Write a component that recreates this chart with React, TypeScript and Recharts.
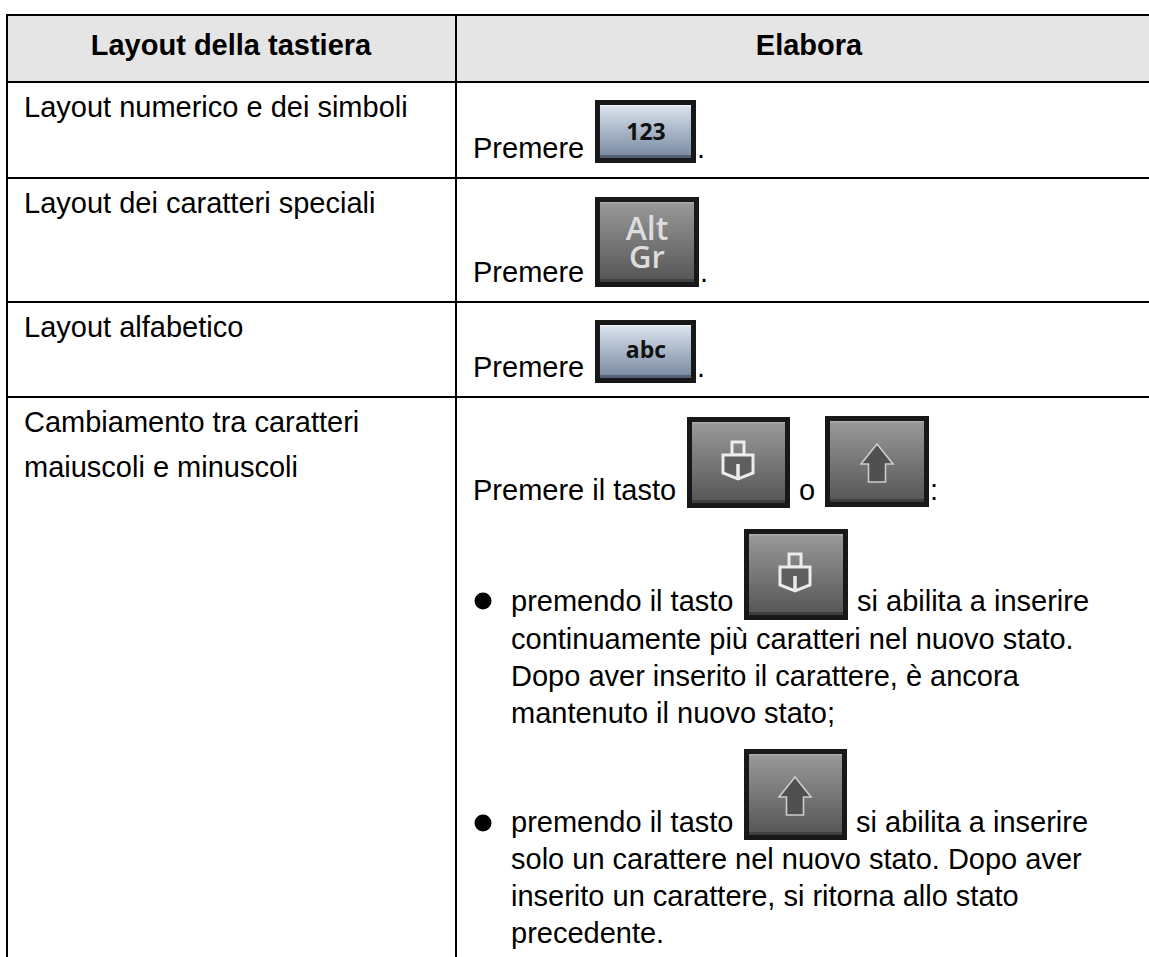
import React from "react";
import { ComposedChart, XAxis, YAxis, ReferenceArea, ReferenceLine, Label } from "recharts";

const headers = ["Layout della tastiera", "Elabora"];
const rowLabels = [
  ["Layout numerico e dei simboli"],
  ["Layout dei caratteri speciali"],
  ["Layout alfabetico"],
  ["Cambiamento tra caratteri", "maiuscoli e minuscoli"],
];
const press = "Premere";
const pressKey = "Premere il tasto";
const pressing = "premendo il tasto";
const enable = "si abilita a inserire";
const bulletOne = [
  "continuamente più caratteri nel nuovo stato.",
  "Dopo aver inserito il carattere, è ancora",
  "mantenuto il nuovo stato;",
];
const bulletTwo = [
  "solo un carattere nel nuovo stato. Dopo aver",
  "inserito un carattere, si ritorna allo stato",
  "precedente.",
];
const keyNumbers = "123";
const keyAlt = ["Alt", "Gr"];
const keyAlpha = "abc";

const W = 1149;
const H = 957;
const FONT = "'Liberation Sans', Arial, sans-serif";
const KEY_FONT = "'Open Sans', 'Noto Sans', sans-serif";

const T = ({ x, y, children, bold, anchor }: any) => (
  <text x={x} y={y} fontFamily={FONT} fontSize={29} fontWeight={bold ? 700 : 400} fill="#000" textAnchor={anchor || "start"}>
    {children}
  </text>
);

const Key = ({ x, y, w, h, blue, children }: any) => (
  <g>
    <rect x={x} y={y} width={w} height={h} fill="#181818" />
    <rect x={x + 5} y={y + 5} width={w - 10} height={h - 10} fill={blue ? "url(#keyBlue)" : "url(#keyGray)"} />
    <rect x={x + 5} y={y + 5} width={w - 10} height={1.5} fill={blue ? "#eef2f7" : "#aaaaaa"} />
    <rect x={x + 5} y={y + h - 8} width={w - 10} height={3} fill={blue ? "#3c4658" : "#303030"} opacity={0.6} />
    {children}
  </g>
);

const Lock = ({ cx, cy }: any) => (
  <g fill="none" stroke="#ececec" strokeWidth={3}>
    <rect x={cx - 6} y={cy - 20} width={12} height={13} />
    <path d={`M${cx - 15} ${cy - 7}H${cx + 15}V${cy + 11}L${cx} ${cy + 17}L${cx - 15} ${cy + 11}Z`} fill="#5f5f5f" />
    <path d={`M${cx} ${cy + 2}V${cy + 15}`} strokeWidth={3.5} />
  </g>
);

const Arrow = ({ cx, cy }: any) => (
  <path
    d={`M${cx} ${cy - 18}L${cx + 16} ${cy + 2}H${cx + 8.5}V${cy + 20}H${cx - 8.5}V${cy + 2}H${cx - 16}Z`}
    fill="#505050"
    stroke="#cccccc"
    strokeWidth={1.6}
  />
);

const KeyLabel = ({ x, y, size, fill, children, weight }: any) => (
  <text x={x} y={y} fontFamily={KEY_FONT} fontSize={size} fontWeight={weight} fill={fill} textAnchor="middle">
    {children}
  </text>
);

const Defs = () => (
  <defs>
    <linearGradient id="keyBlue" x1="0" y1="0" x2="0" y2="1">
      <stop offset="0" stopColor="#dbe4ef" />
      <stop offset="1" stopColor="#77879f" />
    </linearGradient>
    <linearGradient id="keyGray" x1="0" y1="0" x2="0" y2="1">
      <stop offset="0" stopColor="#999999" />
      <stop offset="1" stopColor="#555555" />
    </linearGradient>
  </defs>
);

const Content = () => (
  <g>
    <T x={24} y={117}>{rowLabels[0][0]}</T>
    <T x={24} y={213}>{rowLabels[1][0]}</T>
    <T x={24} y={337}>{rowLabels[2][0]}</T>
    <T x={24} y={432}>{rowLabels[3][0]}</T>
    <T x={24} y={477}>{rowLabels[3][1]}</T>

    <T x={473} y={158}>{press}</T>
    <Key x={595} y={100} w={101} h={63} blue>
      <KeyLabel x={646} y={140} size={23} fill="#111" weight={700}>{keyNumbers}</KeyLabel>
    </Key>
    <T x={697} y={158}>.</T>

    <T x={473} y={282}>{press}</T>
    <Key x={595} y={197} w={104} h={90}>
      <KeyLabel x={647} y={240} size={32} fill="#dddddd" weight={600}>{keyAlt[0]}</KeyLabel>
      <KeyLabel x={647} y={268} size={31} fill="#dddddd" weight={600}>{keyAlt[1]}</KeyLabel>
    </Key>
    <T x={700} y={282}>.</T>

    <T x={473} y={377}>{press}</T>
    <Key x={595} y={320} w={101} h={63} blue>
      <KeyLabel x={646} y={358} size={23} fill="#111" weight={700}>{keyAlpha}</KeyLabel>
    </Key>
    <T x={697} y={377}>.</T>

    <T x={473} y={500}>{pressKey}</T>
    <Key x={687} y={417} w={103} h={91}><Lock cx={738} cy={462} /></Key>
    <T x={799} y={500}>o</T>
    <Key x={825} y={416} w={104} h={91}><Arrow cx={877} cy={462} /></Key>
    <T x={930} y={500}>:</T>

    <circle cx={483} cy={601} r={8.5} fill="#000" />
    <T x={511} y={611}>{pressing}</T>
    <Key x={744} y={529} w={104} h={91}><Lock cx={795} cy={574} /></Key>
    <T x={857} y={611}>{enable}</T>
    <T x={511} y={649}>{bulletOne[0]}</T>
    <T x={511} y={686}>{bulletOne[1]}</T>
    <T x={511} y={723}>{bulletOne[2]}</T>

    <circle cx={483} cy={823} r={8.5} fill="#000" />
    <T x={511} y={832}>{pressing}</T>
    <Key x={744} y={749} w={103} h={91}><Arrow cx={795} cy={795} /></Key>
    <T x={856} y={832}>{enable}</T>
    <T x={511} y={869}>{bulletTwo[0]}</T>
    <T x={511} y={906}>{bulletTwo[1]}</T>
    <T x={511} y={943}>{bulletTwo[2]}</T>
  </g>
);

const hLines = [15, 82, 178, 302, 397];
const vLines = [7, 456];

export default function App() {
  return (
    <div style={{ position: "absolute", left: 0, top: 0, width: W, height: H, background: "#fff" }}>
      <ComposedChart width={W} height={H} data={[{ x: 0, y: 0 }, { x: W, y: H }]} margin={{ top: 0, right: 0, bottom: 0, left: 0 }}>
        <XAxis type="number" dataKey="x" domain={[0, W]} hide />
        <YAxis type="number" dataKey="y" domain={[0, H]} reversed hide />
        <ReferenceArea x1={7} x2={W} y1={15} y2={82} fill="#e5e5e5" fillOpacity={1} stroke="none" ifOverflow="visible">
          <Label
            content={() => (
              <g>
                <T x={231} y={55} bold anchor="middle">{headers[0]}</T>
                <T x={809} y={55} bold anchor="middle">{headers[1]}</T>
              </g>
            )}
          />
        </ReferenceArea>
        {hLines.map((y) => (
          <ReferenceLine key={`h${y}`} segment={[{ x: 6, y }, { x: W, y }]} stroke="#000" strokeWidth={2} ifOverflow="visible" />
        ))}
        {vLines.map((x) => (
          <ReferenceLine key={`v${x}`} segment={[{ x, y: 14 }, { x, y: H }]} stroke="#000" strokeWidth={2} ifOverflow="visible" />
        ))}
        <Defs />
        <Content />
      </ComposedChart>
    </div>
  );
}
